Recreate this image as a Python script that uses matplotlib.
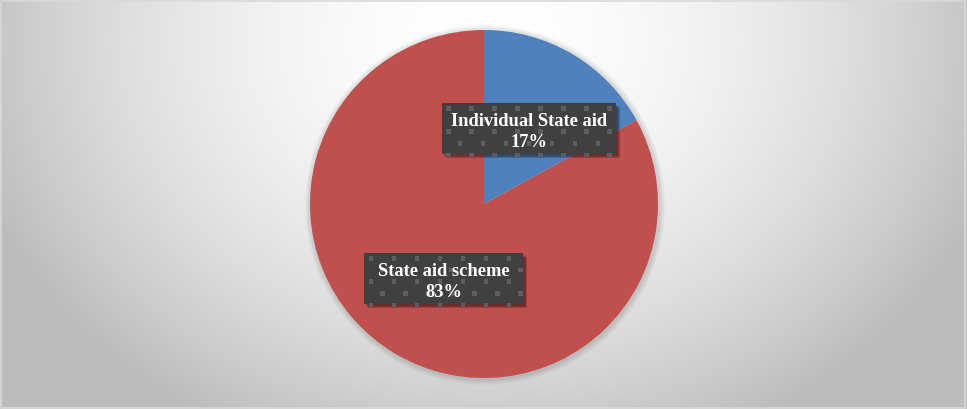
import numpy as np
import matplotlib
matplotlib.use("Agg")
import matplotlib.pyplot as plt
from matplotlib.patches import Rectangle, Circle

# Aid granted by instrument type
categories = ["Individual State aid", "State aid scheme"]
shares = [17, 83]
slice_colors = ["#4F81BD", "#C0504D"]

W, H = 967, 410
fig = plt.figure(figsize=(W / 100, H / 100), dpi=100)
ax = fig.add_axes([0, 0, 1, 1])
ax.set_xlim(0, W)
ax.set_ylim(0, H)
ax.axis("off")

# soft radial backdrop, lightest near the top centre
yy, xx = np.mgrid[0:H, 0:W]
d2 = ((xx - 484) / 484.0) ** 2 + ((yy - 40) / 400.0) ** 2
shade = np.clip(1.0 - 0.22 * d2 ** 0.9, 0.74, 1.0)
bg = np.dstack([shade, shade, shade])
ax.imshow(bg, extent=(0, W, 0, H), origin="upper", zorder=0, aspect="auto")

# frame
ax.add_patch(Rectangle((1, 1), W - 3, H - 3, fill=False, ec="#D9D9D9", lw=1.2, zorder=1))

cx, cy, r = 484, 205, 174

# faint halo beneath the pie
for k in range(6):
    ax.add_patch(Circle((cx + 1, cy - 1), r + 1 + k, fc="#000000", alpha=0.025, ec="none", zorder=2))

ax.pie(shares, colors=slice_colors, startangle=90, counterclock=False,
       center=(cx, cy), radius=r, frame=True,
       wedgeprops=dict(linewidth=0, zorder=3))
ax.set_xlim(0, W)
ax.set_ylim(0, H)
ax.set_aspect("equal")
ax.axis("off")

# label boxes: (centre x, centre y in image rows, width, height)
boxes = [(528.7, 129.5, 174, 51), (443.5, 279.5, 159, 51)]


def patterned_box(xc, yc_img, w, h):
    x0 = xc - w / 2
    y0 = H - (yc_img + h / 2)
    # blurred drop shadow
    for k in range(5):
        ax.add_patch(Rectangle((x0 + 2 + k * 0.6, y0 - 2 - k * 0.6), w, h,
                               fc="#000000", alpha=0.10, ec="none", zorder=5))
    ax.add_patch(Rectangle((x0, y0), w, h, fc="#404040", ec="none", zorder=6))
    # staggered square dots
    step_x, step_y, s = 23.0, 11.7, 4.6
    row = 0
    y = y0 + h - 3.0
    while y > y0 + 1:
        off = 0 if row % 2 == 0 else step_x / 2
        x = x0 + 4.5 + off
        while x < x0 + w - s:
            ax.add_patch(Rectangle((x, y - s), s, s, fc="#5E5E5E", ec="none",
                                   lw=0, zorder=7, antialiased=False))
            x += step_x
        y -= step_y
        row += 1


for (xc, yc, w, h), cat, val in zip(boxes, categories, shares):
    patterned_box(xc, yc, w, h)
    ax.text(xc, H - (yc - 3.5), cat, ha="center", va="baseline", color="white",
            fontsize=13.3, fontweight="bold", family="Liberation Serif", zorder=8)
    ax.text(xc, H - (yc + 17.5), f"{val}%", ha="center", va="baseline", color="white",
            fontsize=13.3, fontweight="bold", family="Liberation Serif", zorder=8)

fig.savefig("out.png", dpi=100)
